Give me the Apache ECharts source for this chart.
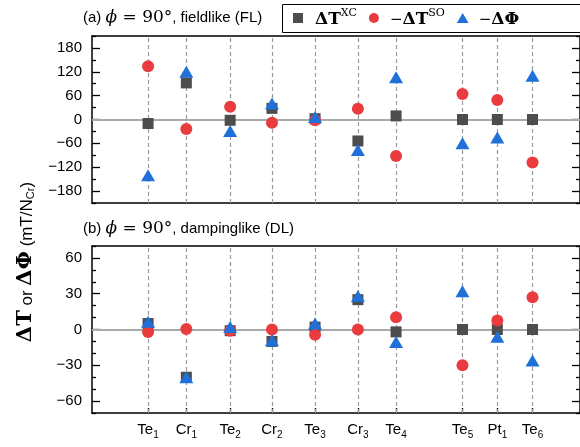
<!DOCTYPE html>
<html>
<head>
<meta charset="utf-8">
<script src="https://cdn.jsdelivr.net/npm/echarts@6/dist/echarts.min.js"></script>
<style>
  html, body { margin: 0; padding: 0; background: #fff; }
  #chart { width: 580px; height: 447px; }
</style>
</head>
<body>
<div id="chart"></div>
<script>
// Atomic layers along the stacking direction (arbitrary position units)
const atoms = ['Te', 'Cr', 'Te', 'Cr', 'Te', 'Cr', 'Te', 'Te', 'Pt', 'Te'];
const atomIndex = ['1', '1', '2', '2', '3', '3', '4', '5', '1', '6'];
const layerPos = [1.149, 1.933, 2.831, 3.688, 4.571, 5.449, 6.231, 7.592, 8.306, 9.027];

// (a) fieldlike contributions, mT/N_Cr
const flXC  = [-10, 92, -2, 28, 2, -54, 9, 0, 0, 0];
const flSO  = [134, -24, 32, -8, -2, 27, -92, 64, 49, -108];
const flPhi = [-140, 120, -29, 40, 6, -77, 106, -60, -45, 110];

// (b) dampinglike contributions, mT/N_Cr
const dlXC  = [5, -40, -1, -10, 2, 25, -2, 0, 0, 0];
const dlSO  = [-2, 0.5, -1, 0, -4.5, 0, 10.3, -30, 7.5, 27];
const dlPhi = [6.5, -40, 2, -9, 5, 28, -10.5, 32, -6, -26];

// Axis ticks
const flTicks = { min: -210, max: 210, interval: 30, labelStep: 60 };
const dlTicks = { min: -70, max: 70, interval: 10, labelStep: 30 };

const C_XC = '#4d4d4d', C_SO = '#ea3b3f', C_PHI = '#1f70d9';
const SANS = '"Liberation Sans", Arial, sans-serif';
const SERIF = '"DejaVu Serif", "Liberation Serif", serif';

const pairs = arr => arr.map((v, i) => [layerPos[i], v]);

function majorValues(t) {
  const out = [];
  for (let v = t.min; v <= t.max; v += t.interval) out.push(v);
  return out;
}
function labelValues(t) {
  const out = [];
  const start = Math.ceil(t.min / t.labelStep) * t.labelStep;
  for (let v = start; v <= t.max; v += t.labelStep) out.push(v);
  return out;
}
const fmtNum = v => (v < 0 ? '\u2212' + Math.abs(v) : String(v));

function yAxes(gridIndex, t) {
  const labels = labelValues(t);
  const minors = majorValues(t).filter(v => labels.indexOf(v) < 0);
  const tick = (len, vals) => ({ show: true, inside: true, length: len, customValues: vals, lineStyle: { color: '#000', width: 1.3 } });
  const common = {
    type: 'value', gridIndex, min: t.min, max: t.max, interval: t.interval,
    splitLine: { show: false },
    axisLine: { show: true, lineStyle: { color: '#000', width: 1.5 } },
    axisLabel: { show: false }
  };
  return [
    Object.assign({}, common, {
      position: 'left', axisTick: tick(8, labels),
      axisLabel: { show: true, customValues: labels, margin: 10, color: '#000', fontSize: 15, fontFamily: SANS, formatter: fmtNum }
    }),
    Object.assign({}, common, { position: 'left', axisLine: { show: false }, axisTick: tick(4, minors) }),
    Object.assign({}, common, { position: 'right', axisTick: tick(8, labels) }),
    Object.assign({}, common, { position: 'right', axisLine: { show: false }, axisTick: tick(4, minors) })
  ];
}

function xAxes(gridIndex, withLabels) {
  const common = {
    type: 'value', gridIndex, min: 0, max: 10,
    splitLine: { show: false },
    axisLine: { show: true, onZero: false, lineStyle: { color: '#000', width: 1.5 } }
  };
  return [
    Object.assign({}, common, {
      position: 'bottom',
      axisTick: { show: withLabels, inside: true, length: 5, customValues: layerPos, lineStyle: { color: '#000', width: 1.3 } },
      axisLabel: {
        show: withLabels, customValues: layerPos, margin: 9, color: '#000', fontFamily: SANS,
        formatter: v => {
          const i = layerPos.indexOf(v);
          return i < 0 ? '' : '{n|' + atoms[i] + '}{s|' + atomIndex[i] + '}';
        },
        rich: {
          n: { fontSize: 15, fontFamily: SANS, color: '#000', verticalAlign: 'top' },
          s: { fontSize: 10, fontFamily: SANS, color: '#000', verticalAlign: 'top', padding: [8, 0, 0, 0] }
        }
      }
    }),
    Object.assign({}, common, {
      position: 'top',
      axisTick: { show: false },
      axisLabel: { show: false }
    })
  ];
}

function guideSeries(xIdx, yIdx) {
  return {
    type: 'scatter', xAxisIndex: xIdx, yAxisIndex: yIdx, data: [], silent: true, z: 1,
    markLine: {
      silent: true, symbol: 'none', animation: false, label: { show: false }, z: 1,
      data: layerPos.map(p => ({ xAxis: p, lineStyle: { color: '#9a9a9a', width: 1.2, type: [4, 3] } }))
        .concat([{ yAxis: 0, lineStyle: { color: '#aaaaaa', width: 2, type: 'solid' } }])
    }
  };
}

function pointSeries(name, data, xIdx, yIdx, z) {
  const styles = {
    xc:  { symbol: 'rect', symbolSize: 11, color: C_XC },
    so:  { symbol: 'circle', symbolSize: 12, color: C_SO },
    phi: { symbol: 'triangle', symbolSize: [14, 12], color: C_PHI }
  };
  const s = styles[name];
  return {
    name, type: 'scatter', xAxisIndex: xIdx, yAxisIndex: yIdx, z,
    symbol: s.symbol, symbolSize: s.symbolSize,
    itemStyle: { color: s.color, opacity: 1 },
    data: pairs(data), animation: false
  };
}

const legendText = {
  xc:  '{b0|\u0394T}{sup|XC}',
  so:  '{m0|\u2212}{b|\u0394T}{sup|SO}',
  phi: '{m0|\u2212}{b|\u0394\u03A6}'
};

const panelTitle = (tag, kind) =>
  '{s|(' + tag + ') }{i|\u03D5}{r| = 90\u00B0}{s|, ' + kind + '}';
const titleRich = {
  s: { fontFamily: SANS, fontSize: 15, fontWeight: 'normal', color: '#000' },
  i: { fontFamily: SERIF, fontStyle: 'italic', fontWeight: 'normal', fontSize: 17, color: '#000' },
  r: { fontFamily: SERIF, fontWeight: 'normal', fontSize: 17, color: '#000' }
};

const legendBold = { fontFamily: SERIF, fontWeight: 'bold', fontSize: 17, color: '#000', verticalAlign: 'bottom', lineHeight: 20 };
const legendMinus = { fontFamily: SERIF, fontSize: 15, color: '#000', verticalAlign: 'bottom', lineHeight: 20 };

const chart = echarts.init(document.getElementById('chart'), null, { renderer: 'canvas' });
chart.setOption({
  animation: false,
  backgroundColor: '#fff',
  grid: [
    { left: 92, top: 36, width: 489, height: 167 },
    { left: 92, top: 246, width: 489, height: 167 }
  ],
  title: [
    { text: panelTitle('a', 'fieldlike (FL)'), left: 83, top: 9, padding: 0, textStyle: { fontWeight: 'normal', rich: titleRich } },
    { text: panelTitle('b', 'dampinglike (DL)'), left: 83, top: 220, padding: 0, textStyle: { fontWeight: 'normal', rich: titleRich } }
  ],
  legend: {
    left: 293, top: 8, orient: 'horizontal',
    data: [
      { name: 'xc', icon: 'path://M0,0H10V10H0Z' },
      { name: 'so', icon: 'circle' },
      { name: 'phi', icon: 'path://M7,0L14,12H0Z' }
    ],
    padding: 0, itemGap: 12, itemWidth: 12, itemHeight: 10, symbolKeepAspect: true,
    formatter: n => legendText[n],
    textStyle: {
      rich: {
        b: legendBold,
        b0: Object.assign({}, legendBold, { padding: [0, 0, 0, 6] }),
        m0: Object.assign({}, legendMinus, { padding: [0, 0, 0, 5] }),
        sup: { fontFamily: SERIF, fontSize: 11, color: '#000', verticalAlign: 'top', lineHeight: 14 }
      }
    }
  },
  xAxis: xAxes(0, false).concat(xAxes(1, true)),
  yAxis: yAxes(0, flTicks).concat(yAxes(1, dlTicks)),
  graphic: [
    {
      type: 'rect', shape: { x: 282.5, y: 4.5, width: 320, height: 28 }, silent: true,
      style: { fill: 'none', stroke: '#000', lineWidth: 1 }
    },
    {
      type: 'text', x: 24, y: 262, rotation: Math.PI / 2,
      style: {
        text: '{b|\u0394T}{o| or }{b|\u0394\u03A6}{o| (mT/N}{sub|Cr}{o|)}',
        align: 'center', verticalAlign: 'middle',
        rich: {
          b: { fontFamily: SERIF, fontWeight: 'bold', fontSize: 21, fill: '#000', verticalAlign: 'bottom', lineHeight: 24 },
          o: { fontFamily: SANS, fontSize: 17, fill: '#000', verticalAlign: 'bottom', lineHeight: 22 },
          sub: { fontFamily: SANS, fontSize: 11, fill: '#000', verticalAlign: 'bottom', lineHeight: 18 }
        }
      }
    }
  ],
  series: [
    guideSeries(0, 0),
    pointSeries('xc', flXC, 0, 0, 2),
    pointSeries('so', flSO, 0, 0, 3),
    pointSeries('phi', flPhi, 0, 0, 4),
    guideSeries(2, 4),
    pointSeries('xc', dlXC, 2, 4, 2),
    pointSeries('so', dlSO, 2, 4, 3),
    pointSeries('phi', dlPhi, 2, 4, 4)
  ]
});
</script>
</body>
</html>
